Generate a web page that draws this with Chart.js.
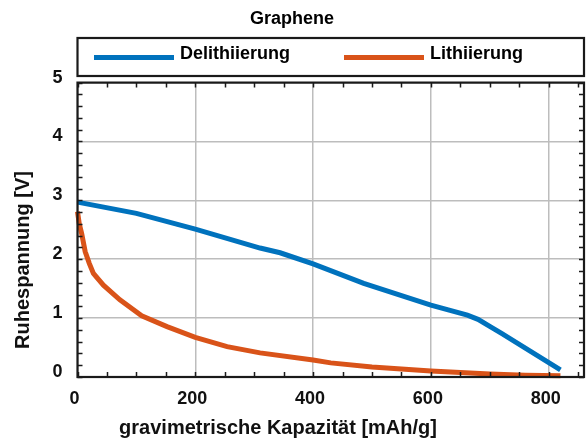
<!DOCTYPE html>
<html>
<head>
<meta charset="utf-8">
<script src="https://cdn.jsdelivr.net/npm/chart.js@4.4.1/dist/chart.umd.min.js"></script>
<style>
  html, body { margin: 0; padding: 0; background: #ffffff; }
  #wrap { width: 588px; height: 443px; }
</style>
</head>
<body>
<div id="wrap"><canvas id="c" width="588" height="443"></canvas></div>
<script>
// Open-circuit voltage of a graphene electrode vs. gravimetric capacity
const chartTitle = 'Graphene';
const seriesNames = ['Delithiierung', 'Lithiierung'];
const seriesColors = ['#0072BD', '#D95319'];

const delithCapacity = [0, 100, 200, 310, 344, 400, 486, 600, 662, 680, 700, 720, 770, 820];
const delithVoltage  = [2.97, 2.78, 2.51, 2.19, 2.11, 1.92, 1.59, 1.22, 1.05, 0.98, 0.86, 0.74, 0.43, 0.12];

const lithCapacity = [0, 3, 7, 13, 20, 27, 44, 72, 109, 152, 200, 254, 310, 400, 430, 500, 600, 700, 760, 820];
const lithVoltage  = [2.81, 2.60, 2.44, 2.13, 1.93, 1.76, 1.56, 1.31, 1.04, 0.855, 0.674, 0.515, 0.41, 0.29, 0.24, 0.17, 0.10, 0.05, 0.03, 0.02];

const xTickValues = [0, 200, 400, 600, 800];
const yTickValues = [0, 1, 2, 3, 4, 5];
const xAxisTitle = 'gravimetrische Kapazität [mAh/g]';
const yAxisTitle = 'Ruhespannung [V]';

const FONT = '"Liberation Sans", Arial, Helvetica, sans-serif';

function toPoints(xs, ys) { return xs.map((v, i) => ({ x: v, y: ys[i] })); }

// Boxed frame with inward minor ticks on all four sides
const boxFrame = {
  id: 'boxFrame',
  afterDatasetsDraw(chart) {
    const { ctx, chartArea: a, scales: { x, y } } = chart;
    const tickLen = 5;
    ctx.save();
    ctx.strokeStyle = '#1a1a1a';
    ctx.lineWidth = 1.5;
    ctx.beginPath();
    for (let v = x.min; v <= x.max + 1e-6; v += 50) {
      const px = Math.round(x.getPixelForValue(v)) + 0.5;
      ctx.moveTo(px, a.bottom); ctx.lineTo(px, a.bottom - tickLen);
      ctx.moveTo(px, a.top); ctx.lineTo(px, a.top + tickLen);
    }
    for (let i = 0; i <= 25; i++) {
      const py = Math.round(y.getPixelForValue(i * 0.2)) + 0.5;
      ctx.moveTo(a.left, py); ctx.lineTo(a.left + tickLen, py);
      ctx.moveTo(a.right, py); ctx.lineTo(a.right - tickLen, py);
    }
    ctx.stroke();
    ctx.lineWidth = 2.2;
    ctx.strokeRect(a.left, a.top, a.right - a.left, a.bottom - a.top);
    ctx.restore();
  }
};

// Axis titles, placed slightly off the axis centres
const axisTitles = {
  id: 'axisTitles',
  afterDraw(chart) {
    const { ctx } = chart;
    ctx.save();
    ctx.fillStyle = '#111';
    ctx.font = 'bold 20px ' + FONT;
    ctx.textAlign = 'center';
    ctx.textBaseline = 'middle';
    ctx.fillText(xAxisTitle, 278, 428);
    ctx.translate(23, 260);
    ctx.rotate(-Math.PI / 2);
    ctx.fillText(yAxisTitle, 0, 0);
    ctx.restore();
  }
};

// Boxed legend above the plot area
const boxLegend = {
  id: 'boxLegend',
  afterDraw(chart) {
    const { ctx, chartArea: a } = chart;
    const top = 38, bottom = 76;
    const lineY = 57.5;
    const lineStarts = [94, 344];
    const lineLen = 80;
    ctx.save();
    ctx.strokeStyle = '#1a1a1a';
    ctx.lineWidth = 2.2;
    ctx.strokeRect(a.left, top, a.right - a.left, bottom - top);
    ctx.font = 'bold 18px ' + FONT;
    ctx.textBaseline = 'alphabetic';
    ctx.fillStyle = '#000';
    chart.data.datasets.forEach((ds, i) => {
      const x0 = lineStarts[i];
      ctx.strokeStyle = ds.borderColor;
      ctx.lineWidth = 5;
      ctx.beginPath();
      ctx.moveTo(x0, lineY); ctx.lineTo(x0 + lineLen, lineY);
      ctx.stroke();
      ctx.fillText(ds.label, x0 + lineLen + 6, 59);
    });
    ctx.restore();
  }
};

new Chart(document.getElementById('c'), {
  type: 'line',
  data: {
    datasets: [
      { label: seriesNames[0], data: toPoints(delithCapacity, delithVoltage),
        borderColor: seriesColors[0], backgroundColor: seriesColors[0],
        borderWidth: 5, pointRadius: 0, tension: 0, clip: false },
      { label: seriesNames[1], data: toPoints(lithCapacity, lithVoltage),
        borderColor: seriesColors[1], backgroundColor: seriesColors[1],
        borderWidth: 5, pointRadius: 0, tension: 0, clip: false }
    ]
  },
  options: {
    responsive: false,
    animation: false,
    devicePixelRatio: 1,
    layout: { padding: { left: 0, right: 4, top: 0, bottom: 0 } },
    plugins: {
      legend: { display: false },
      tooltip: { enabled: false },
      title: {
        display: true, text: chartTitle, color: '#000',
        font: { family: FONT, size: 18, weight: 'bold' },
        padding: { top: 8, bottom: 53 }
      }
    },
    scales: {
      x: {
        type: 'linear', min: 0, max: 860,
        afterBuildTicks: s => { s.ticks = xTickValues.map(v => ({ value: v })); },
        afterFit: s => { s.height = 66; },
        grid: { color: '#bdbdbd', lineWidth: 1.5, drawTicks: false },
        border: { display: false },
        ticks: { color: '#111', padding: 11, maxRotation: 0, labelOffset: -3,
                 font: { family: FONT, size: 18, weight: 'bold' } },
        title: { display: false }
      },
      y: {
        type: 'linear', min: 0, max: 5,
        afterBuildTicks: s => { s.ticks = yTickValues.map(v => ({ value: v })); },
        afterFit: s => { s.width = 77.5; },
        grid: { color: '#bdbdbd', lineWidth: 1.5, drawTicks: false },
        border: { display: false },
        ticks: { color: '#111', padding: 15, labelOffset: -5,
                 font: { family: FONT, size: 18, weight: 'bold' } },
        title: { display: false }
      }
    }
  },
  plugins: [boxFrame, boxLegend, axisTitles]
});
</script>
</body>
</html>
